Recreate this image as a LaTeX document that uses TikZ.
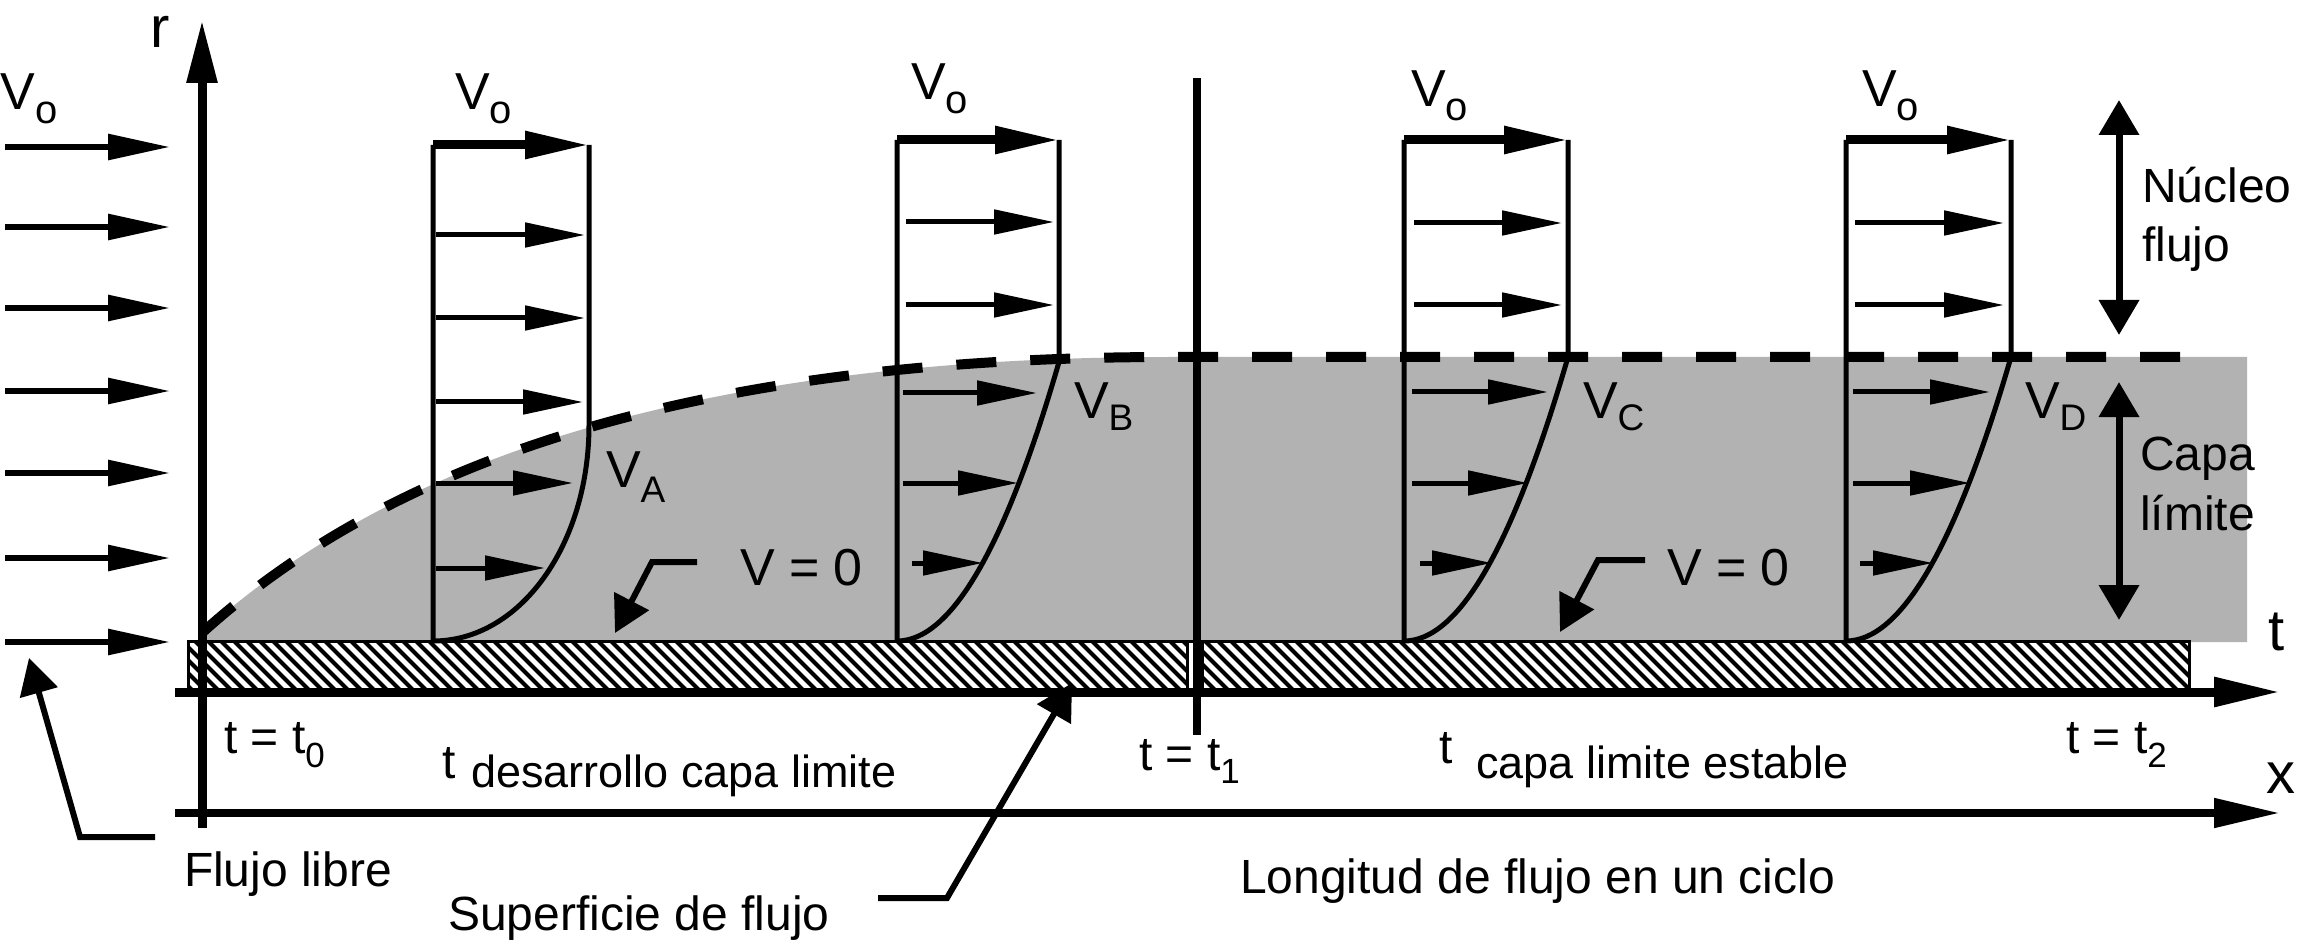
\documentclass[tikz,border=0pt]{standalone}
\usepackage{fontspec}
\setmainfont{Liberation Sans}
\usetikzlibrary{arrows.meta}
\newcommand\lowsub[3]{\raisebox{-#1pt}{\fontsize{#2pt}{#2pt}\selectfont #3}}
\begin{document}
\begin{tikzpicture}[x=1pt,y=-1pt,
  lbl/.style={anchor=base west, inner sep=0pt, outer sep=0pt, font=\fontsize{48pt}{48pt}\selectfont},
  sublbl/.style={anchor=base west, inner sep=0pt, outer sep=0pt, font=\fontsize{45pt}{45pt}\selectfont},
  biglbl/.style={anchor=base west, inner sep=0pt, outer sep=0pt, font=\fontsize{58pt}{58pt}\selectfont},
  vlbl/.style={anchor=base west, inner sep=0pt, outer sep=0pt, font=\fontsize{52pt}{52pt}\selectfont},
  farrow/.style={line width=5pt, -{Triangle[length=60pt,width=24pt]}},
  freearrow/.style={line width=6pt, -{Triangle[length=62pt,width=25pt]}},
  toparrow/.style={line width=9pt, -{Triangle[length=64pt,width=26pt]}},
  axisarrow/.style={-{Triangle[length=66pt,width=28pt]}},
  dblarrow/.style={line width=7pt, {Triangle[length=35pt,width=39pt]}-{Triangle[length=35pt,width=39pt]}},
  pointer/.style={line width=6pt, -{Triangle[length=36pt,width=38pt]}},
  profile/.style={line width=5pt},
  blayer/.style={line width=10pt, dash pattern=on 40pt off 34pt},
  platebox/.style={fill=white, draw=black, line width=3pt},
]
\useasboundingbox (0,0) rectangle (2297,949);

% ---- gray boundary-layer region
\fill[black!30] (203,641) -- (203,632) .. controls (353,497) and (620,357) .. (1170,357)
   -- (2247,357) -- (2247,642) -- (203,642) -- cycle;

% ---- plate (surface), two parts with hatching
\filldraw[platebox] (188,641) rectangle (1187,692);
\filldraw[platebox] (1202,641) rectangle (2189,692);
\begin{scope}
  \clip (188,643) rectangle (1187,690);
  \foreach \i in {130,143,...,1200} \draw[line width=4pt] (\i,641) -- ++(52,52);
\end{scope}
\begin{scope}
  \clip (1202,643) rectangle (2189,690);
  \foreach \i in {1140,1153,...,2200} \draw[line width=4pt] (\i,641) -- ++(52,52);
\end{scope}
\draw[line width=3pt] (188,641) -- (2189,641);

% ---- boundary layer edge (dashed)
\coordinate (bl0) at (203,632);
\coordinate (bl1) at (1170,357);
\coordinate (bl2) at (2180,357);
\draw[blayer] (bl0) .. controls (353,497) and (620,357) .. (bl1) -- (bl2);

% ---- profile A
\coordinate (A0) at (433,641); \coordinate (A1) at (433,145);
\coordinate (A2) at (589,145); \coordinate (A3) at (589,425);
\draw[profile] (A0) -- (A1) (A2) -- (A3) .. controls (589,545) and (520,641) .. (A0);
\draw[toparrow] (A1) -- (A2);
\foreach \y/\e in {235/585,318/585,402/583,483/573,568/545}
  \draw[farrow] (436,\y) -- (\e,\y);

% ---- profile B
\coordinate (B0) at (897,641); \coordinate (B1) at (897,140);
\coordinate (B2) at (1059,140); \coordinate (B3) at (1059,362);
\draw[profile] (B0) -- (B1) (B2) -- (B3) .. controls (1005,548) and (951,641) .. (B0);
\draw[toparrow] (B1) -- (B2);
\foreach \s/\y/\e in {906/222/1054,906/305/1054,903/393/1037,903/483/1018,912/563/983}
  \draw[farrow] (\s,\y) -- (\e,\y);

% ---- profile C
\coordinate (C0) at (1404,641); \coordinate (C1) at (1404,140);
\coordinate (C2) at (1568,140); \coordinate (C3) at (1568,357);
\draw[profile] (C0) -- (C1) (C2) -- (C3) .. controls (1513,546) and (1459,641) .. (C0);
\draw[toparrow] (C1) -- (C2);
\foreach \s/\y/\e in {1414/223/1562,1414/305/1562,1412/392/1548,1412/483/1528,1420/563/1492}
  \draw[farrow] (\s,\y) -- (\e,\y);

% ---- profile D
\coordinate (D0) at (1846,641); \coordinate (D1) at (1846,140);
\coordinate (D2) at (2011,140); \coordinate (D3) at (2011,357);
\draw[profile] (D0) -- (D1) (D2) -- (D3) .. controls (1956,546) and (1901,641) .. (D0);
\draw[toparrow] (D1) -- (D2);
\foreach \s/\y/\e in {1855/223/2004,1855/305/2004,1853/392/1990,1853/483/1970,1860/563/1933}
  \draw[farrow] (\s,\y) -- (\e,\y);

% ---- free stream arrows
\foreach \y in {147,227,308,391,473,558,642}
  \draw[freearrow] (5,\y) -- (170,\y);

% ---- axes and t1 marker
\coordinate (r0) at (202,828); \coordinate (r1) at (202,20);
\draw[axisarrow, line width=9pt, -{Triangle[length=63pt,width=29pt]}] (r0) -- (r1);
\coordinate (ta0) at (175,692); \coordinate (ta1) at (2280,692);
\draw[axisarrow, line width=9pt] (ta0) -- (ta1);
\coordinate (xa0) at (175,813); \coordinate (xa1) at (2280,813);
\draw[axisarrow, line width=8pt] (xa0) -- (xa1);
\coordinate (t1a) at (1197,78); \coordinate (t1b) at (1197,735);
\draw[line width=8pt] (t1a) -- (t1b);

% ---- double arrows
\coordinate (n0) at (2119,100); \coordinate (n1) at (2119,335);
\draw[dblarrow] (n0) -- (n1);
\coordinate (c0) at (2119,382); \coordinate (c1) at (2119,620);
\draw[dblarrow] (c0) -- (c1);

% ---- pointers
\coordinate (fl0) at (155,837); \coordinate (fl1) at (80,837); \coordinate (fl2) at (29,658);
\draw[pointer] (fl0) -- (fl1) -- (fl2);
\coordinate (va0) at (697,562); \coordinate (va1) at (652,562); \coordinate (va2) at (615,633);
\draw[pointer] (va0) -- (va1) -- (va2);
\coordinate (vb0) at (1645,560); \coordinate (vb1) at (1598,560); \coordinate (vb2) at (1560,632);
\draw[pointer] (vb0) -- (vb1) -- (vb2);
\coordinate (sf0) at (878,898); \coordinate (sf1) at (947,898); \coordinate (sf2) at (1072,683);
\draw[pointer] (sf0) -- (sf1) -- (sf2);

% ---- labels
\node[biglbl] (lr) at (150,48) {r};
\node[biglbl] (lt) at (2268,650) {t};
\node[biglbl] (lx) at (2266,793) {x};
\node[vlbl] (vo0) at (1,110) {V\lowsub{14}{40}{o}};
\node[vlbl] (voA) at (455,110) {V\lowsub{14}{40}{o}};
\node[vlbl] (voB) at (911,100) {V\lowsub{14}{40}{o}};
\node[vlbl] (voC) at (1411,107) {V\lowsub{14}{40}{o}};
\node[vlbl] (voD) at (1862,107) {V\lowsub{14}{40}{o}};
\node[vlbl] (vA) at (606,487) {V\lowsub{15}{37}{A}};
\node[vlbl] (vB) at (1074,418) {V\lowsub{12}{37}{B}};
\node[vlbl] (vC) at (1583,418) {V\lowsub{12}{37}{C}};
\node[vlbl] (vD) at (2025,418) {V\lowsub{12}{37}{D}};
\node[vlbl] (v0a) at (740,585) {V = 0};
\node[vlbl] (v0b) at (1667,585) {V = 0};
\node[lbl] (nuc) at (2142,203) {Núcleo};
\node[lbl] (nuf) at (2142,262) {flujo};
\node[lbl] (cap) at (2140,470) {Capa};
\node[lbl] (lim) at (2140,530) {límite};
\node[lbl] (tt0) at (224,753) {t = t\lowsub{14}{35}{0}};
\node[lbl] (tt1) at (1139,770) {t = t\lowsub{13}{35}{1}};
\node[lbl] (tt2) at (2066,753) {t = t\lowsub{14}{35}{2}};
\node[lbl] (tdev) at (442,778) {t};
\node[sublbl] (tdevs) at (471,787) {desarrollo capa limite};
\node[lbl] (tst) at (1439,763) {t};
\node[sublbl] (tsts) at (1476,778) {capa limite estable};
\node[lbl] (flib) at (184,886) {Flujo libre};
\node[lbl] (sup) at (448,930) {Superficie de flujo};
\node[lbl] (lon) at (1240,893) {Longitud de flujo en un ciclo};
\end{tikzpicture}
\end{document}
